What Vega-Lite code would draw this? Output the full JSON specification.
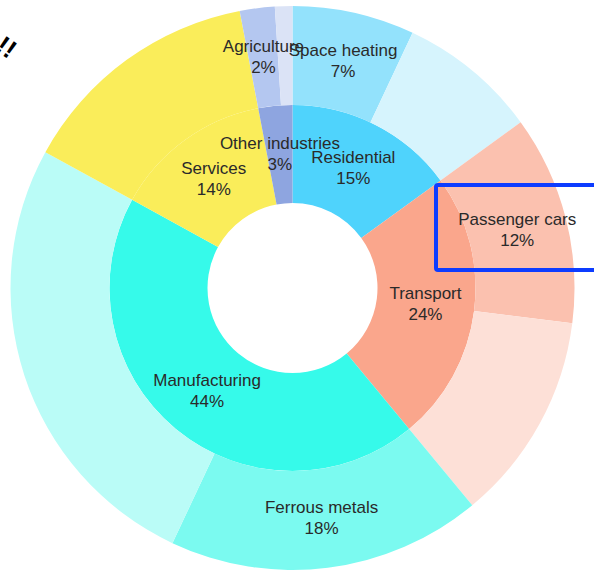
{
  "$schema": "https://vega.github.io/schema/vega-lite/v6.json",
  "autosize": "none",
  "width": 585,
  "height": 566,
  "padding": {"left": 0, "top": 5, "right": 9, "bottom": 0},
  "background": "white",
  "config": {"view": {"stroke": null}},
  "datasets": {
    "inner": [
      {"name": "Residential", "value": 15, "order": 1, "label": "Residential\n15%"},
      {"name": "Transport", "value": 24, "order": 2, "label": "Transport\n24%"},
      {"name": "Manufacturing", "value": 44, "order": 3, "label": "Manufacturing\n44%"},
      {"name": "Services", "value": 14, "order": 4, "label": "Services\n14%"},
      {"name": "Other industries", "value": 3, "order": 5, "label": "Other industries\n3%"}
    ],
    "outer": [
      {"name": "Space heating", "value": 7, "order": 1, "label": "Space heating\n7%"},
      {"name": "Residential other", "value": 8, "order": 2, "label": ""},
      {"name": "Passenger cars", "value": 12, "order": 3, "label": "Passenger cars\n12%"},
      {"name": "Transport other", "value": 12, "order": 4, "label": ""},
      {"name": "Ferrous metals", "value": 18, "order": 5, "label": "Ferrous metals\n18%"},
      {"name": "Manufacturing other", "value": 26, "order": 6, "label": ""},
      {"name": "Services outer", "value": 14, "order": 7, "label": ""},
      {"name": "Agriculture", "value": 2, "order": 8, "label": "Agriculture\n2%"},
      {"name": "Other industries rest", "value": 1, "order": 9, "label": ""}
    ],
    "box": [
      {"x": 436, "x2": 640, "y": 180, "y2": 265}
    ],
    "glyph": [
      {"x": 6, "y": 43, "t": "!!"}
    ]
  },
  "layer": [
    {
      "data": {"name": "inner"},
      "mark": {"type": "arc", "innerRadius": 85, "outerRadius": 183},
      "encoding": {
        "theta": {"field": "value", "type": "quantitative", "stack": true, "scale": {"domain": [0, 100]}},
        "order": {"field": "order", "type": "quantitative"},
        "color": {
          "field": "name", "type": "nominal", "legend": null,
          "scale": {
            "domain": ["Residential", "Transport", "Manufacturing", "Services", "Other industries", "Space heating", "Residential other", "Passenger cars", "Transport other", "Ferrous metals", "Manufacturing other", "Services outer", "Agriculture", "Other industries rest"],
            "range": ["#4fd3fc", "#faa68c", "#36faea", "#faed5a", "#8ea5e0", "#93e2fc", "#d6f4fd", "#fbc1af", "#fde0d7", "#7bfaf0", "#bafcf7", "#faed5a", "#b4c7f0", "#dbe3f6"]
          }
        }
      }
    },
    {
      "data": {"name": "outer"},
      "mark": {"type": "arc", "innerRadius": 183, "outerRadius": 282},
      "encoding": {
        "theta": {"field": "value", "type": "quantitative", "stack": true, "scale": {"domain": [0, 100]}},
        "order": {"field": "order", "type": "quantitative"},
        "color": {"field": "name", "type": "nominal", "legend": null}
      }
    },
    {
      "data": {"name": "inner"},
      "mark": {"type": "text", "radius": 134, "dy": -10.5, "font": "Liberation Sans", "fontSize": 17, "lineHeight": 21, "lineBreak": "\n", "fill": "#2a2a2a", "baseline": "middle", "align": "center"},
      "encoding": {
        "theta": {"field": "value", "type": "quantitative", "stack": true, "scale": {"domain": [0, 100]}},
        "order": {"field": "order", "type": "quantitative"},
        "text": {"field": "label", "type": "nominal"}
      }
    },
    {
      "data": {"name": "outer"},
      "mark": {"type": "text", "radius": 232, "dy": -10.5, "font": "Liberation Sans", "fontSize": 17, "lineHeight": 21, "lineBreak": "\n", "fill": "#2a2a2a", "baseline": "middle", "align": "center"},
      "encoding": {
        "theta": {"field": "value", "type": "quantitative", "stack": true, "scale": {"domain": [0, 100]}},
        "order": {"field": "order", "type": "quantitative"},
        "text": {"field": "label", "type": "nominal"}
      }
    },
    {
      "data": {"name": "box"},
      "mark": {"type": "rect", "fill": null, "stroke": "#0d3cff", "strokeWidth": 4, "cornerRadius": 2},
      "encoding": {
        "x": {"field": "x", "type": "quantitative", "axis": null, "scale": {"domain": [0, 585], "nice": false, "zero": false}},
        "x2": {"field": "x2"},
        "y": {"field": "y", "type": "quantitative", "axis": null, "scale": {"domain": [0, 566], "nice": false, "zero": false, "reverse": true}},
        "y2": {"field": "y2"}
      }
    },
    {
      "data": {"name": "glyph"},
      "mark": {"type": "text", "font": "Liberation Sans", "fontSize": 26, "fontWeight": "bold", "angle": 35, "fill": "#000000", "align": "center", "baseline": "middle"},
      "encoding": {
        "x": {"field": "x", "type": "quantitative"},
        "y": {"field": "y", "type": "quantitative"},
        "text": {"field": "t", "type": "nominal"}
      }
    }
  ]
}
